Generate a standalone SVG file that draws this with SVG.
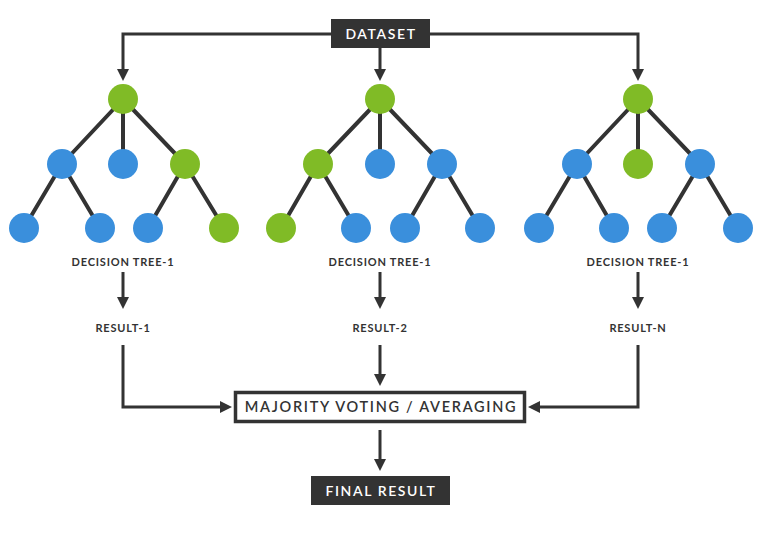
<svg xmlns="http://www.w3.org/2000/svg" width="768" height="539" viewBox="0 0 768 539">
<style>
.g{fill:#80bb26}.b{fill:#3a8fdc}
.e{stroke:#333;stroke-width:4;fill:none}
.c{stroke:#333;stroke-width:3;fill:none}
.t{font-family:"Lato","Liberation Sans",sans-serif;font-weight:bold;fill:#333;text-anchor:middle;letter-spacing:0.8px}
.w{font-size:14px;letter-spacing:1.6px;font-weight:600}
</style>
<defs><marker id="a" markerWidth="4" markerHeight="4" refX="2" refY="2" orient="auto" markerUnits="strokeWidth"><path d="M0,0L4,2L0,4z" fill="#333"/></marker></defs>
<rect width="768" height="539" fill="#fff"/>
<g id="connectors">
<path class="c" d="M331,34H123V75" marker-end="url(#a)"/>
<path class="c" d="M430,34H638V75" marker-end="url(#a)"/>
<path class="c" d="M380,48V75" marker-end="url(#a)"/>
<path class="c" d="M123,272V303" marker-end="url(#a)"/>
<path class="c" d="M380,272V303" marker-end="url(#a)"/>
<path class="c" d="M638,272V303" marker-end="url(#a)"/>
<path class="c" d="M123,345V407H226" marker-end="url(#a)"/>
<path class="c" d="M638,345V407H534" marker-end="url(#a)"/>
<path class="c" d="M380,345V380" marker-end="url(#a)"/>
<path class="c" d="M380,430V465" marker-end="url(#a)"/>
</g>
<g id="tree1">
<path class="e" d="M123,99L62,164M123,99V164M123,99L185,164M62,164L24,228M62,164L100,228M185,164L148,228M185,164L224,228"/>
<circle class="g" cx="123" cy="99" r="15"/><circle class="b" cx="62" cy="164" r="15"/><circle class="b" cx="123" cy="164" r="15"/><circle class="g" cx="185" cy="164" r="15"/>
<circle class="b" cx="24" cy="228" r="15"/><circle class="b" cx="100" cy="228" r="15"/><circle class="b" cx="148" cy="228" r="15"/><circle class="g" cx="224" cy="228" r="15"/>
</g>
<g id="tree2">
<path class="e" d="M380,99L318,164M380,99V164M380,99L442,164M318,164L281,228M318,164L356,228M442,164L405,228M442,164L480,228"/>
<circle class="g" cx="380" cy="99" r="15"/><circle class="g" cx="318" cy="164" r="15"/><circle class="b" cx="380" cy="164" r="15"/><circle class="b" cx="442" cy="164" r="15"/>
<circle class="g" cx="281" cy="228" r="15"/><circle class="b" cx="356" cy="228" r="15"/><circle class="b" cx="405" cy="228" r="15"/><circle class="b" cx="480" cy="228" r="15"/>
</g>
<g id="tree3">
<path class="e" d="M638,99L577,164M638,99V164M638,99L700,164M577,164L539,228M577,164L614,228M700,164L662,228M700,164L738,228"/>
<circle class="g" cx="638" cy="99" r="15"/><circle class="b" cx="577" cy="164" r="15"/><circle class="g" cx="638" cy="164" r="15"/><circle class="b" cx="700" cy="164" r="15"/>
<circle class="b" cx="539" cy="228" r="15"/><circle class="b" cx="614" cy="228" r="15"/><circle class="b" cx="662" cy="228" r="15"/><circle class="b" cx="738" cy="228" r="15"/>
</g>
<g id="dataset"><rect x="331" y="19" width="99" height="29" fill="#333"/><text class="t w" x="381" y="39" style="fill:#fff">DATASET</text></g>
<g id="labels">
<text class="t" x="123" y="266" font-size="11">DECISION TREE-1</text>
<text class="t" x="380" y="266" font-size="11">DECISION TREE-1</text>
<text class="t" x="638" y="266" font-size="11">DECISION TREE-1</text>
<text class="t" x="123" y="332" font-size="11">RESULT-1</text>
<text class="t" x="380" y="332" font-size="11">RESULT-2</text>
<text class="t" x="638" y="332" font-size="11">RESULT-N</text>
</g>
<g id="majority"><rect x="235.5" y="392.5" width="289" height="29" fill="#fff" stroke="#333" stroke-width="3.5"/><text class="t w" x="381" y="412" style="font-size:14.5px;letter-spacing:1.7px">MAJORITY VOTING / AVERAGING</text></g>
<g id="final"><rect x="311" y="476" width="139" height="29" fill="#333"/><text class="t w" x="381" y="496" style="fill:#fff">FINAL RESULT</text></g>
</svg>
